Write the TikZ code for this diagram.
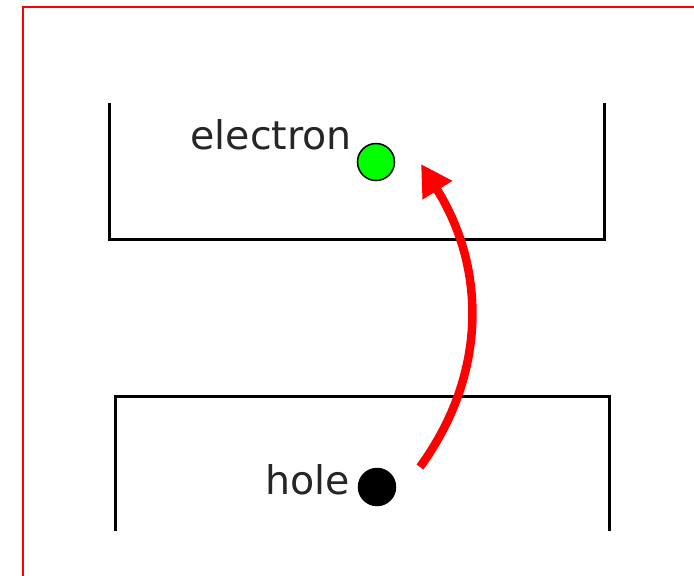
\documentclass[tikz,border=0pt]{standalone}
\usepackage{fontspec}
\setmainfont{DejaVu Sans}
\usetikzlibrary{arrows.meta}
\begin{document}
\begin{tikzpicture}[x=1pt,y=-1pt,
  wall/.style={line width=3pt,black},
  frame/.style={line width=2pt,red},
  particle/.style={circle,draw=black,line width=1.5pt,minimum size=37pt,inner sep=0pt},
  lbl/.style={font=\fontsize{39.5}{42}\selectfont,text=black!85,inner sep=0pt},
  jump/.style={red,line width=8.5pt,-{Triangle[length=31pt,width=33pt]}}]
\useasboundingbox (0,0) rectangle (694,576);
\clip (0,0) rectangle (694,576);
\fill[white] (0,0) rectangle (694,576);
\draw[frame] (23,7) rectangle (760,640);
% conduction band
\draw[wall] (109,103) -- (109,239) -- (604,239) -- (604,103);
% valence band
\draw[wall] (115,531) -- (115,396) -- (609,396) -- (609,531);
\node[particle,fill=green] (e) at (376,162) {};
\node[particle,fill=black] (h) at (377,487) {};
\node[lbl,anchor=base east] (el) at (352,149) {electron};
\node[lbl,anchor=base east] (hl) at (350,494) {hole};
\coordinate (s) at (420,467);
\coordinate (t) at (421,164);
\draw[jump] (s) .. controls (489,372) and (485,266) .. (t);
\end{tikzpicture}
\end{document}
